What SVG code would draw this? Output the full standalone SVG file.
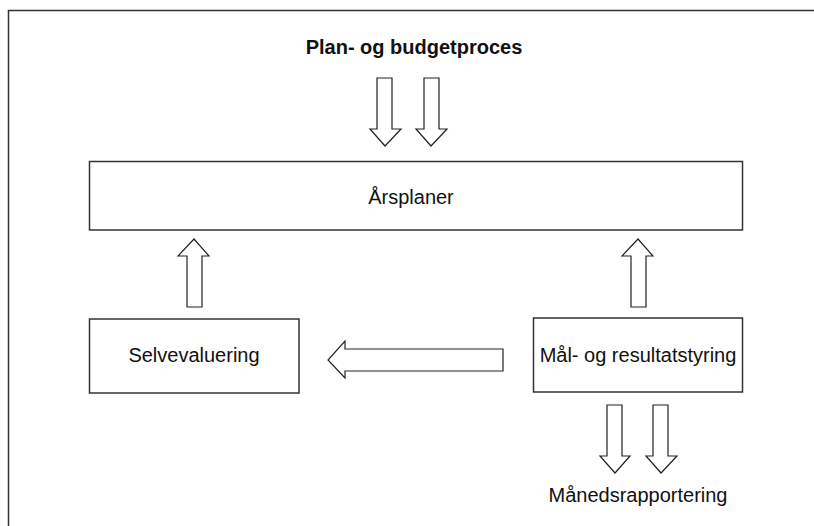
<svg xmlns="http://www.w3.org/2000/svg" width="814" height="526" viewBox="0 0 814 526">
<style>
.box{fill:#fff;stroke:#333;stroke-width:1.5}
.arr{fill:#fff;stroke:#222;stroke-width:1.2;stroke-linejoin:miter}
.t{font-family:"Liberation Sans",Arial,sans-serif;font-size:20px;fill:#111;text-anchor:middle}
.b{font-weight:bold}
</style>
<rect width="814" height="526" fill="#fff"/>
<path d="M8.5,526 V10.5 H814" fill="none" stroke="#333" stroke-width="1.5"/>
<text class="t b" x="414" y="54">Plan- og budgetproces</text>
<g id="arsplaner"><rect class="box" x="89.5" y="161.5" width="653" height="68.5"/><text class="t" x="411" y="204">Årsplaner</text></g>
<g id="selvevaluering"><rect class="box" x="89.5" y="319" width="209.5" height="74"/><text class="t" x="194" y="362">Selvevaluering</text></g>
<g id="maal"><rect class="box" x="533.5" y="318" width="209" height="74"/><text class="t" x="638" y="362">Mål- og resultatstyring</text></g>
<text class="t" x="638" y="502">Månedsrapportering</text>
<g id="connectors">
<polygon class="arr" points="377,78 392,78 392,129 401,129 385,146 370,129 377,129"/>
<polygon class="arr" points="424,78 439,78 439,129 447,129 431,146 416,129 424,129"/>
<polygon class="arr" points="187,307 202,307 202,256 209,256 194,239 178,256 187,256"/>
<polygon class="arr" points="631,307 646,307 646,256 653,256 638,239 622,256 631,256"/>
<polygon class="arr" points="503,349 345,349 345,341 328,360 345,378 345,371 503,371"/>
<polygon class="arr" points="607,405 622,405 622,456 630,456 615,473 600,456 607,456"/>
<polygon class="arr" points="653,405 668,405 668,456 677,456 661,473 646,456 653,456"/>
</g>
</svg>
